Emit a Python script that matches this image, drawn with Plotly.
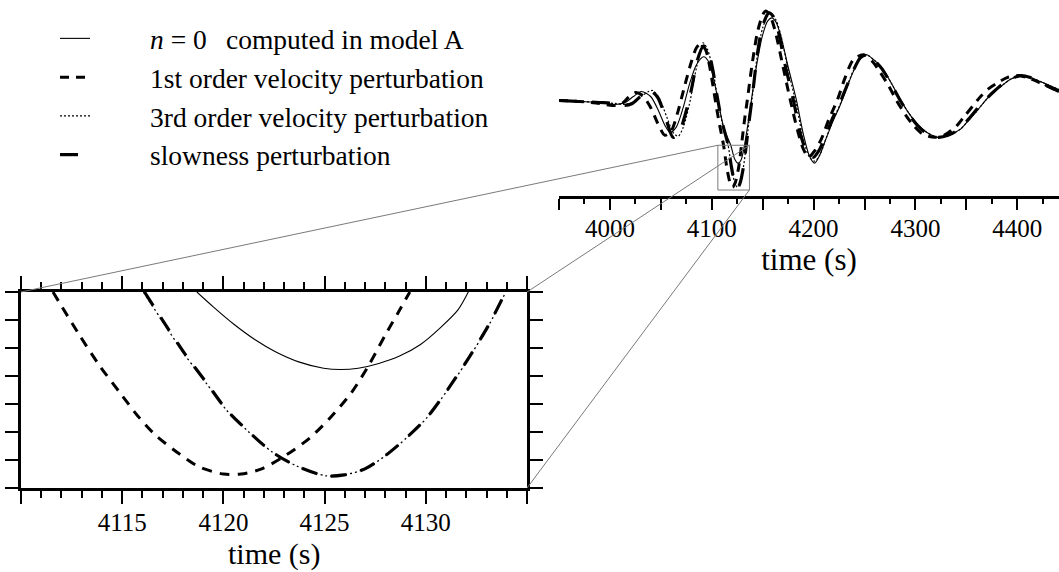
import plotly.graph_objects as go

# ---------------- data (time in s, amplitude in arbitrary units) ----------------
T_N0 = [3950, 3970, 3990, 4005, 4015, 4023, 4031, 4040, 4048, 4054, 4059, 4065, 4072, 4078, 4085,
        4092, 4097, 4102, 4106, 4111, 4115, 4118.7, 4122.6, 4125.8, 4128.7, 4132.1, 4135.5, 4139,
        4145, 4150, 4155, 4159, 4163, 4168, 4175, 4183, 4190, 4196, 4201, 4206, 4212, 4219, 4226,
        4232, 4239, 4246, 4252, 4259, 4267, 4276, 4284, 4293, 4302, 4311, 4322, 4332, 4344, 4352,
        4360, 4368, 4376, 4385, 4393, 4403, 4413, 4425, 4441]
A_N0 = [-1, -2, -3, -5, -3, 3, 8, 3, -12, -26, -33, -28, -8, 15, 35,
        43, 38, 20, 0, -25, -37, -46, -60, -64, -61, -46, -25, 0,
        40, 65, 79, 82, 78, 63, 33, 0, -35, -57, -64, -56, -40, -22, -6,
        10, 28, 41, 45, 40, 32, 17, 2, -13, -25, -33, -38, -36, -30, -21,
        -12, -2, 7, 14, 20, 24, 22, 17, 10]

T_V1 = [3950, 3970, 3990, 4003, 4012, 4018, 4025, 4032, 4040, 4047, 4054, 4060, 4066, 4073, 4080,
        4085, 4089, 4094, 4098, 4101, 4105, 4108, 4111.6, 4114.9, 4117.8, 4120.4, 4123.1, 4126.3,
        4129.2, 4132, 4135, 4140, 4145, 4150, 4153, 4157, 4162, 4170, 4177, 4184, 4190, 4195, 4200,
        4207.5, 4215, 4223.5, 4231, 4239, 4249, 4258, 4265, 4273, 4282, 4290, 4298, 4306, 4313, 4319,
        4328, 4340, 4348, 4356, 4364, 4372, 4381, 4390, 4400, 4410, 4422, 4441]
A_V1 = [-1, -2, -4, -6, -4, 2, 7, 4, -8, -24, -36, -32, -15, 12, 38,
        52, 56, 50, 33, 15, -10, -27, -46, -69, -83, -88, -83.5, -69,
        -46, -22, 0, 38, 68, 85, 89, 85, 70, 33, 0, -30, -50, -58, -53,
        -40, -20, 0, 22, 40, 45, 38, 28, 15, -2, -15, -26, -34, -37, -38,
        -36, -27, -17, -7, 3, 11, 17, 22, 24, 22, 17, 8]

T_V3 = [3950, 3970, 3990, 4005, 4015, 4024, 4032, 4038, 4042, 4048, 4056, 4062, 4067, 4072, 4078,
        4085, 4091.5, 4096, 4101, 4105, 4110, 4116.1, 4119.2, 4122.4, 4125, 4126, 4128, 4131.1,
        4133.9, 4136.5, 4139.5, 4145, 4150, 4155, 4158.5, 4163, 4168, 4175, 4183, 4190, 4196, 4201,
        4206, 4212, 4219, 4226, 4232, 4239, 4246, 4252, 4259, 4267, 4276, 4284, 4293, 4302, 4311,
        4322, 4332, 4344, 4352, 4360, 4368, 4376, 4385, 4393, 4403, 4413, 4425, 4441]
A_V3 = [-1, -2, -3, -4, -5, -2, 4, 8, 9, 2, -18, -33, -37, -28, -5,
        32, 57, 50, 30, 6, -22, -46, -67, -83, -88, -88, -83.5, -68,
        -46, -23, 0, 46, 72, 84, 86, 80, 64, 30, -5, -40, -58, -62,
        -56, -40, -21, -5, 11, 29, 42, 45, 40, 32, 17, 2, -13, -25, -33,
        -38, -36, -30, -21, -12, -2, 7, 14, 20, 24, 22, 17, 10]

T_SL = [3950, 3970, 3990, 4005, 4014, 4022, 4030, 4036, 4041, 4047, 4054, 4062, 4068, 4074, 4080,
        4086, 4092, 4097, 4101, 4105, 4110, 4116.1, 4119.2, 4122.4, 4125, 4126, 4128, 4131.1,
        4133.9, 4136.5, 4139.5, 4145, 4150, 4156, 4160, 4165, 4172, 4180, 4188, 4195, 4200, 4206,
        4212, 4219, 4226, 4232, 4239, 4246, 4252, 4259, 4267, 4276, 4284, 4293, 4302, 4311, 4322,
        4332, 4344, 4352, 4360, 4368, 4376, 4385, 4393, 4403, 4413, 4425, 4441]
A_SL = [-1, -2, -3, -4, -6, -4, 3, 7, 8, 2, -16, -38, -33, -15, 10,
        40, 54, 47, 30, 5, -22, -46, -67, -83, -88, -88, -83.5, -68,
        -46, -23, 0, 47, 74, 87, 84, 70, 35, 0, -38, -56, -58, -50,
        -36, -18, -3, 12, 29, 42, 45, 40, 31, 16, 1, -14, -26, -34, -38,
        -36, -29, -20, -10, -1, 7, 15, 20, 24, 22, 16, 8]

# inset (zoom of the first trough)
TI_N0 = [4118.69, 4119.50, 4120.52, 4121.55, 4122.57, 4123.76, 4124.95, 4125.80, 4126.66, 4127.68,
         4128.70, 4129.72, 4130.74, 4131.59, 4132.10]
AI_N0 = [-46.0, -49.4, -53.4, -56.9, -59.7, -62.1, -63.5, -63.8, -63.5, -62.4,
         -60.7, -58.1, -54.1, -50.1, -46.0]
TI_V1 = [4111.58, 4112.86, 4113.88, 4114.90, 4115.76, 4116.61, 4117.80, 4118.82, 4120.01, 4120.87,
         4121.89, 4123.08, 4124.27, 4125.29, 4126.31, 4127.17, 4128.02, 4128.70, 4129.21]
AI_V1 = [-46.0, -55.7, -62.9, -69.2, -74.4, -78.7, -83.1, -86.2, -87.8, -87.8,
         -86.6, -83.5, -79.5, -74.8, -69.2, -62.9, -55.7, -50.2, -46.0]
TI_SL = [4116.10, 4117.12, 4118.14, 4119.16, 4120.18, 4121.21, 4122.40, 4123.59, 4125.04, 4125.97,
         4126.99, 4128.02, 4129.04, 4130.06, 4131.08, 4132.10, 4133.13, 4133.94]
AI_SL = [-46.0, -53.4, -60.5, -66.8, -73.2, -77.9, -82.7, -85.9, -88.2, -88.0,
         -86.6, -83.5, -79.5, -74.8, -68.4, -61.3, -53.4, -46.0]
TI_V3 = [4116.05, 4117.10, 4118.12, 4119.15, 4120.17, 4121.20, 4122.40, 4123.60, 4125.05, 4125.98,
         4127.00, 4128.03, 4129.05, 4130.07, 4131.09, 4132.11, 4133.14, 4133.95]
AI_V3 = [-46.0, -53.5, -60.6, -66.9, -73.2, -77.9, -82.7, -85.9, -88.2, -88.0,
         -86.6, -83.5, -79.5, -74.8, -68.4, -61.3, -53.4, -46.0]

NAMES = ["<i>n</i> = 0\u2002\u2009computed in model A",
         "1st order velocity perturbation",
         "3rd order velocity perturbation",
         "slowness perturbation"]
AXIS_TITLE = "time (s)"

MAIN_T_RANGE = [3950, 4441]
MAIN_A_RANGE = [-97, 100]
MAIN_TICKS = [3950, 4000, 4050, 4100, 4150, 4200, 4250, 4300, 4350, 4400]
MAIN_LABELS = ["", "4000", "", "4100", "", "4200", "", "4300", "", "4400"]

INSET_T_RANGE = [4110, 4135]
INSET_A_RANGE = [-91, -46]
INSET_TICKS = [4110, 4115, 4120, 4125, 4130, 4135]
INSET_LABELS = ["", "4115", "4120", "4125", "4130", ""]
BOX_T = [4106, 4137]   # zoom window as drawn on the main trace

# ---------------- layout geometry ----------------
W, H = 1059, 572
MAIN_X_DOM = [559 / W, 1.0]
MAIN_Y_DOM = [(H - 196) / H, 1.0]
INS_X_DOM = [21 / W, 527 / W]
INS_Y_DOM = [(H - 488) / H, (H - 292) / H]

FONT = "Liberation Serif, DejaVu Serif, serif"
GRAY = "#7a7a7a"

styles = {
    "n0": dict(color="black", width=1.1, dash="solid"),
    "v1": dict(color="black", width=3, dash="9px,7px"),
    "v3": dict(color="black", width=1.2, dash="2px,2px"),
    "sl": dict(color="black", width=3.2, dash="18px,15px"),
}
styles_in = {
    "n0": dict(color="black", width=1.1, dash="solid"),
    "v1": dict(color="black", width=3, dash="10px,8px"),
    "v3": dict(color="black", width=1.3, dash="2px,3px"),
    "sl": dict(color="black", width=3.2, dash="16px,14px"),
}

fig = go.Figure()
main_series = [("n0", T_N0, A_N0, NAMES[0], 1),
               ("v3", T_V3, A_V3, NAMES[2], 3),
               ("sl", T_SL, A_SL, NAMES[3], 4),
               ("v1", T_V1, A_V1, NAMES[1], 2)]
for key, t, a, name, rank in main_series:
    fig.add_trace(go.Scatter(x=t, y=a, mode="lines", line=dict(shape="spline", smoothing=0.8, **styles[key]),
                             name="\u2003\u2002\u2002" + name, legendrank=rank, xaxis="x", yaxis="y",
                             hoverinfo="skip"))
inset_series = [("n0", TI_N0, AI_N0), ("v3", TI_V3, AI_V3), ("sl", TI_SL, AI_SL), ("v1", TI_V1, AI_V1)]
for key, t, a in inset_series:
    fig.add_trace(go.Scatter(x=t, y=a, mode="lines", line=dict(shape="spline", smoothing=0.8, **styles_in[key]),
                             showlegend=False, xaxis="x2", yaxis="y2", hoverinfo="skip"))


def to_paper(v, rng, dom):
    return dom[0] + (v - rng[0]) / (rng[1] - rng[0]) * (dom[1] - dom[0])


bx0 = to_paper(BOX_T[0], MAIN_T_RANGE, MAIN_X_DOM)
bx1 = to_paper(BOX_T[1], MAIN_T_RANGE, MAIN_X_DOM)
by0 = to_paper(INSET_A_RANGE[0], MAIN_A_RANGE, MAIN_Y_DOM)
by1 = to_paper(INSET_A_RANGE[1], MAIN_A_RANGE, MAIN_Y_DOM)

shapes = [
    dict(type="rect", xref="x", yref="y", x0=BOX_T[0], x1=BOX_T[1], y0=INSET_A_RANGE[0], y1=INSET_A_RANGE[1],
         line=dict(color=GRAY, width=1)),
    dict(type="line", xref="paper", yref="paper", x0=INS_X_DOM[0], y0=INS_Y_DOM[1], x1=bx0, y1=by1,
         line=dict(color=GRAY, width=1)),
    dict(type="line", xref="paper", yref="paper", x0=INS_X_DOM[1], y0=INS_Y_DOM[1], x1=bx1, y1=by1,
         line=dict(color=GRAY, width=1)),
    dict(type="line", xref="paper", yref="paper", x0=INS_X_DOM[1], y0=INS_Y_DOM[0], x1=bx1, y1=by0,
         line=dict(color=GRAY, width=1)),
]

# inset axis title placed at the bottom edge, below its tick labels
annotations = [
    dict(text=AXIS_TITLE, xref="paper", yref="paper", x=(INS_X_DOM[0] + INS_X_DOM[1]) / 2,
         y=0, xanchor="center", yanchor="bottom", showarrow=False, borderpad=0,
         font=dict(family=FONT, size=30, color="black")),
]

fig.update_layout(
    width=W, height=H, margin=dict(l=0, r=0, t=0, b=0),
    paper_bgcolor="white", plot_bgcolor="rgba(0,0,0,0)",
    font=dict(family=FONT, color="black", size=25),
    shapes=shapes, annotations=annotations,
    showlegend=True,
    legend=dict(x=55 / W, y=1 - 14 / H, xanchor="left", yanchor="top",
                font=dict(family=FONT, size=27.5, color="black"),
                bgcolor="rgba(0,0,0,0)", borderwidth=0, tracegroupgap=0, traceorder="normal"),
    xaxis=dict(domain=MAIN_X_DOM, range=MAIN_T_RANGE, anchor="y", showgrid=False, zeroline=False,
               showline=True, linecolor="black", linewidth=3,
               tickmode="array", tickvals=MAIN_TICKS, ticktext=MAIN_LABELS,
               ticks="outside", ticklen=11, tickwidth=1.5, tickcolor="black", ticklabelstandoff=-3,
               minor=dict(ticks="outside", dtick=25, tick0=3950, ticklen=5, tickwidth=1.5, tickcolor="black",
                          showgrid=False),
               tickfont=dict(family=FONT, size=25),
               title=dict(text=AXIS_TITLE, font=dict(family=FONT, size=31), standoff=5)),
    yaxis=dict(domain=MAIN_Y_DOM, range=MAIN_A_RANGE, anchor="x", visible=False),
    xaxis2=dict(domain=INS_X_DOM, range=INSET_T_RANGE, anchor="y2", showgrid=False, zeroline=False,
                showline=True, linecolor="black", linewidth=3, mirror="ticks",
                tickmode="array", tickvals=INSET_TICKS, ticktext=INSET_LABELS,
                ticks="outside", ticklen=13, tickwidth=1.5, tickcolor="black", ticklabelstandoff=-3,
                minor=dict(ticks="outside", dtick=1, tick0=4110, ticklen=7, tickwidth=1.5, tickcolor="black",
                           showgrid=False),
                tickfont=dict(family=FONT, size=25)),
    yaxis2=dict(domain=INS_Y_DOM, range=INSET_A_RANGE, anchor="x2", showgrid=False, zeroline=False,
                showline=True, linecolor="black", linewidth=3, mirror="ticks",
                tickmode="linear", tick0=INSET_A_RANGE[0], dtick=(INSET_A_RANGE[1] - INSET_A_RANGE[0]) / 7,
                ticks="outside", ticklen=13, tickwidth=1.5, tickcolor="black", showticklabels=False),
)

fig.write_html("out.html")
